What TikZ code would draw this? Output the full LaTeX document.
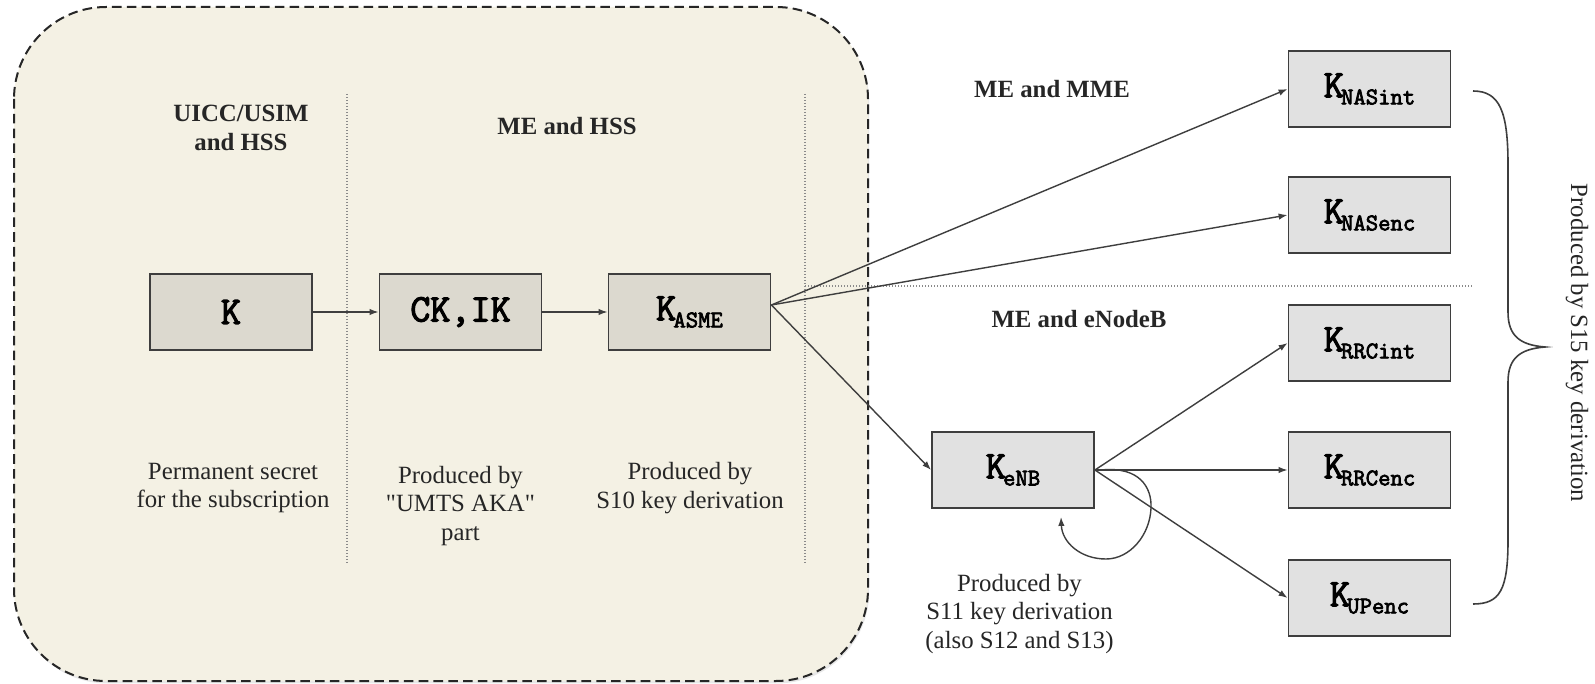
\documentclass[tikz,border=0pt]{standalone}
\usepackage{fontspec}
\setmainfont{Liberation Serif}[Ligatures=TeXOff]
\newfontfamily\keyfont{Latin Modern Mono}[FakeBold=3]
\usetikzlibrary{arrows.meta,shadows}

\definecolor{panelbg}{HTML}{F4F1E4}
\definecolor{keyfillA}{HTML}{DCD9CF}
\definecolor{keyfillB}{HTML}{E1E1E1}
\definecolor{edgecol}{HTML}{3E3E3E}
\definecolor{sepcol}{HTML}{8A8A8A}

% key name: large typewriter letter with a lowered typewriter subscript
\newcommand{\keyname}[2]{{\fontsize{19.5}{21}\selectfont\keyfont #1}\kern-1.4pt\raisebox{-3.6pt}{\fontsize{12}{13}\selectfont\keyfont #2}}
\newcommand{\keyplain}[1]{{\fontsize{19.5}{21}\selectfont\keyfont #1}}

\begin{document}
\begin{tikzpicture}[x=0.5pt,y=-0.5pt,
  keyA/.style={draw=edgecol, line width=0.9pt, fill=keyfillA, minimum width=81pt, minimum height=38pt, inner sep=0pt},
  keyB/.style={keyA, fill=keyfillB},
  link/.style={draw=edgecol, line width=0.7pt, -{Latex[length=4.5pt,width=3.2pt]}},
  sep/.style={draw=sepcol, line width=0.6pt, dash pattern=on 0.6pt off 0.9pt},
  txt/.style={font=\fontsize{12.4}{14.25}\selectfont, align=center, inner sep=0pt, text=black!85},
  head/.style={txt, font=\fontsize{12.4}{14.25}\selectfont\bfseries},
  panel/.style={draw=black!85, line width=1pt, dash pattern=on 4.8pt off 2.6pt, fill=panelbg, rounded corners=46pt,
    drop shadow={opacity=0.18, shadow xshift=0.6pt, shadow yshift=-1.2pt}}]

\useasboundingbox (0,0) rectangle (1595,684);
\fill[white] (0,0) rectangle (1595,684);

% shaded domain of the long-term keys
\path[panel] (14,7) rectangle (868,681);

% separators between domains
\draw[sep] (347,94) -- (347,563);
\draw[sep] (805,94) -- (805,563);
\draw[sep] (805,286) -- (1472,286);

% domain headings
\node[head] (hUicc) at (241,128) {UICC/USIM\\and HSS};
\node[head] (hMeHss) at (567,126) {ME and HSS};
\node[head] (hMeMme) at (1052,89) {ME and MME};
\node[head] (hMeEnb) at (1079,319) {ME and eNodeB};

% key boxes
\node[keyA] (k) at (231,312) {\keyplain{K}};
\node[keyA] (ckik) at (460.5,312) {\keyplain{CK,IK}};
\node[keyA] (kasme) at (689.5,312) {\keyname{K}{ASME}};
\node[keyB] (kenb) at (1013,470) {\keyname{K}{eNB}};
\node[keyB] (nasint) at (1369.5,89) {\keyname{K}{NASint}};
\node[keyB] (nasenc) at (1369.5,215) {\keyname{K}{NASenc}};
\node[keyB] (rrcint) at (1369.5,343) {\keyname{K}{RRCint}};
\node[keyB] (rrcenc) at (1369.5,470) {\keyname{K}{RRCenc}};
\node[keyB] (upenc) at (1369.5,598) {\keyname{K}{UPenc}};

% descriptions
\node[txt] (dK) at (233,488) {Permanent secret\\for the subscription};
\node[txt] (dCkik) at (460.5,506) {Produced by\\"UMTS AKA"\\part};
\node[txt] (dKasme) at (690,488) {Produced by\\S10 key derivation};
\node[txt] (dKenb) at (1019.5,614) {Produced by\\S11 key derivation\\(also S12 and S13)};
\node[txt, rotate=-90] (dS15) at (1577,343) {Produced by S15 key derivation};

% derivation chain
\coordinate (kasmeOut) at ([yshift=3.5pt]kasme.east);
\draw[link] (k) -- (ckik);
\draw[link] (ckik) -- (kasme);
\draw[link] (kasmeOut) -- (nasint.west);
\draw[link] (kasmeOut) -- (nasenc.west);
\draw[link] (kasmeOut) -- (kenb.west);
\draw[link] (kenb.east) -- (rrcint.west);
\draw[link] (kenb.east) -- (rrcenc.west);
\draw[link] (kenb.east) -- (upenc.west);

% KeNB refresh loop
\coordinate (loopEnd) at ([yshift=-4pt]kenb.south -| 1061,0);
\draw[link] ([xshift=3pt]kenb.east) .. controls (1140,466) and (1152,488) .. (1151,508)
  .. controls (1150,535) and (1130,559) .. (1106,559)
  .. controls (1080,559) and (1062,542) .. (loopEnd);

% brace grouping the five derived keys
\draw[draw=edgecol, line width=0.8pt]
  (1473,91) .. controls (1500,91) and (1508,112) .. (1508,165) -- (1508,312)
  .. controls (1508,336) and (1520,345) .. (1545,347)
  .. controls (1520,349) and (1508,358) .. (1508,382) -- (1508,540)
  .. controls (1508,590) and (1500,604) .. (1473,604);
\end{tikzpicture}
\end{document}
